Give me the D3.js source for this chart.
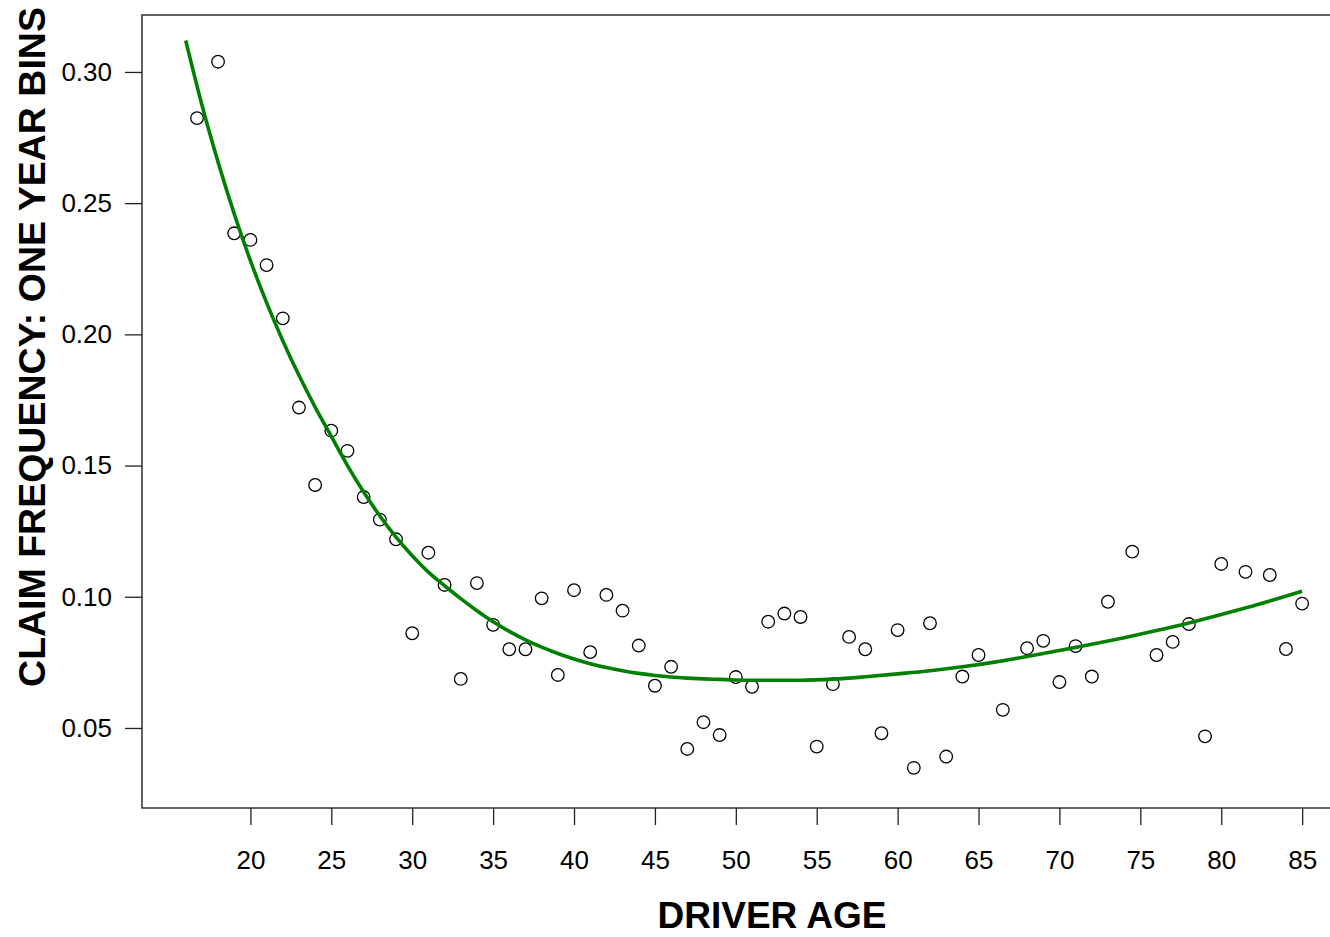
<!DOCTYPE html>
<html>
<head>
<meta charset="utf-8">
<script src="https://cdn.jsdelivr.net/npm/d3@7"></script>
<style>
  html, body { margin: 0; padding: 0; background: #fff; }
  svg { display: block; font-family: "Liberation Sans", Arial, Helvetica, sans-serif; }
</style>
</head>
<body>
<svg id="chart" width="1330" height="937"></svg>
<script>
// Observed claim frequency per one-year age bin
const ages = [16.7, 18, 19, 20, 21, 22, 23, 24, 25, 26, 27, 28, 29, 30, 31, 32, 33, 34, 35, 36, 37, 38, 39, 40,
  41, 42, 43, 44, 45, 46, 47, 48, 49, 50, 51, 52, 53, 54, 55, 56, 57, 58, 59, 60, 61, 62, 63, 64, 65,
  66.5, 68, 69, 70, 71, 72, 73, 74.5, 76, 77, 78, 79, 80, 81.5, 83, 84, 85];
const freq = [0.2824, 0.3039, 0.2385, 0.2360, 0.2264, 0.2061, 0.1721, 0.1426, 0.1633, 0.1556, 0.1380, 0.1294,
  0.1219, 0.0861, 0.1168, 0.1045, 0.0687, 0.1052, 0.0893, 0.0800, 0.0800, 0.0994, 0.0702, 0.1025,
  0.0789, 0.1007, 0.0947, 0.0814, 0.0661, 0.0733, 0.0420, 0.0522, 0.0473, 0.0694, 0.0657, 0.0905,
  0.0936, 0.0923, 0.0429, 0.0667, 0.0847, 0.0800, 0.0480, 0.0873, 0.0348, 0.0899, 0.0391, 0.0696,
  0.0778, 0.0569, 0.0804, 0.0832, 0.0675, 0.0812, 0.0696, 0.0981, 0.1172, 0.0778, 0.0828, 0.0896,
  0.0468, 0.1125, 0.1095, 0.1083, 0.0801, 0.0974];

// Fitted frequency curve
const fitAge = [16, 17, 18, 19, 20, 21, 22, 23, 24, 25, 26, 27, 28, 29, 30, 31, 32, 33, 34, 35, 36, 37, 38,
  39, 40, 41, 42, 43, 44, 45, 46, 47, 48, 49, 50, 51, 52, 54, 56, 58, 60, 62, 64, 66, 68, 70, 72, 74,
  76, 78, 80, 82, 85];
const fitFreq = [0.3120, 0.2875, 0.2657, 0.2459, 0.2281, 0.2121, 0.1976, 0.1844, 0.1723, 0.1611, 0.1500,
  0.1399, 0.1308, 0.1227, 0.1156, 0.1094, 0.1042, 0.0993, 0.0947, 0.0905, 0.0868, 0.0836, 0.0808,
  0.0784, 0.0763, 0.0745, 0.0730, 0.0718, 0.0708, 0.0700, 0.0694, 0.0690, 0.0687, 0.0685, 0.0683,
  0.0682, 0.0682, 0.0682, 0.0686, 0.0695, 0.0706, 0.0718, 0.0733, 0.0751, 0.0772, 0.0795, 0.0819,
  0.0844, 0.0871, 0.0900, 0.0932, 0.0966, 0.1021];

const xTicks = [20, 25, 30, 35, 40, 45, 50, 55, 60, 65, 70, 75, 80, 85];
const yTicks = [0.05, 0.10, 0.15, 0.20, 0.25, 0.30];

const xTitle = "DRIVER AGE";
const yTitle = "CLAIM FREQUENCY: ONE YEAR BINS";

const svg = d3.select("#chart");

const plot = { left: 142, top: 15, right: 1346.8, bottom: 808 };

const x = d3.scaleLinear().domain([13.3, 87.76]).range([plot.left, plot.right]);
const y = d3.scaleLinear().domain([0.0195, 0.3217]).range([plot.bottom, plot.top]);

// Plot frame
svg.append("rect")
  .attr("x", plot.left).attr("y", plot.top)
  .attr("width", plot.right - plot.left).attr("height", plot.bottom - plot.top)
  .attr("fill", "none").attr("stroke", "#222").attr("stroke-width", 1.4);

// Axes
const xAxis = svg.append("g")
  .attr("transform", `translate(0,${plot.bottom})`)
  .call(d3.axisBottom(x).tickValues(xTicks).tickSize(17).tickPadding(26).tickFormat(d3.format("d")));
const yAxis = svg.append("g")
  .attr("transform", `translate(${plot.left},0)`)
  .call(d3.axisLeft(y).tickValues(yTicks).tickSize(17).tickPadding(13).tickFormat(d3.format(".2f")));

[xAxis, yAxis].forEach(g => {
  g.select(".domain").remove();
  g.selectAll(".tick line").attr("stroke", "#222").attr("stroke-width", 1.3);
  g.selectAll(".tick text")
    .attr("fill", "#000")
    .style("font-size", "26px")
    .style("font-family", "'Liberation Sans', Arial, sans-serif");
});

// Observed points (open circles)
svg.append("g")
  .selectAll("circle")
  .data(ages.map((a, i) => ({ a, f: freq[i] })))
  .join("circle")
  .attr("cx", d => x(d.a))
  .attr("cy", d => y(d.f))
  .attr("r", 6.3)
  .attr("fill", "none")
  .attr("stroke", "#000")
  .attr("stroke-width", 1.3);

// Fitted curve
const line = d3.line()
  .x(d => x(d.a))
  .y(d => y(d.f))
  .curve(d3.curveMonotoneX);

svg.append("path")
  .datum(fitAge.map((a, i) => ({ a, f: fitFreq[i] })))
  .attr("d", line)
  .attr("fill", "none")
  .attr("stroke", "#008000")
  .attr("stroke-width", 3.6);

// Axis titles
svg.append("text")
  .attr("x", 772).attr("y", 928)
  .attr("text-anchor", "middle")
  .style("font-size", "37px").style("font-weight", "bold")
  .text(xTitle);

svg.append("text")
  .attr("transform", "translate(45,347) rotate(-90)")
  .attr("text-anchor", "middle")
  .style("font-size", "37.5px").style("font-weight", "bold")
  .text(yTitle);
</script>
</body>
</html>
